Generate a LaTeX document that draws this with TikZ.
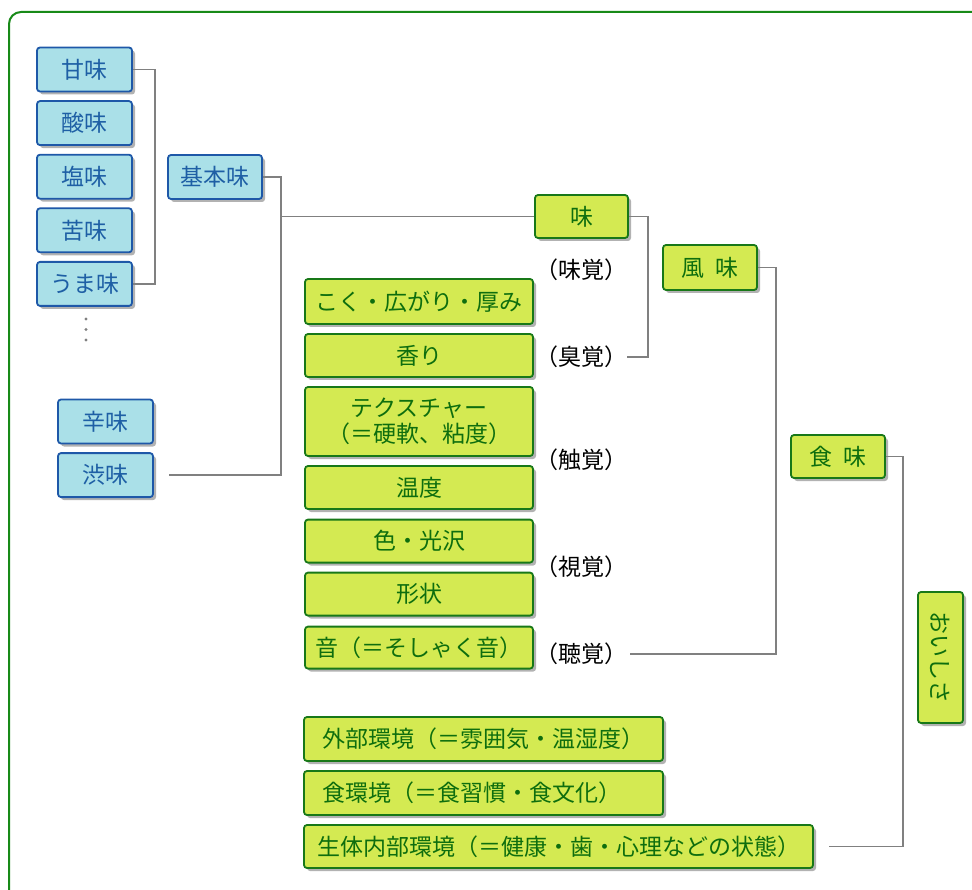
\documentclass[tikz,border=0pt]{standalone}
\usepackage{fontspec}
\usepackage{graphicx}
\setmainfont{Noto Sans CJK JP}
\usetikzlibrary{positioning,shadows}

\definecolor{tastefill}{RGB}{170,224,232}
\definecolor{tasteline}{RGB}{30,88,168}
\definecolor{tastetext}{RGB}{30,95,165}
\definecolor{flavfill}{RGB}{212,234,82}
\definecolor{flavline}{RGB}{24,120,24}
\definecolor{flavtext}{RGB}{14,110,14}
\definecolor{wiregray}{RGB}{128,128,128}
\definecolor{framegreen}{RGB}{24,138,24}

\tikzset{
  box/.style={rectangle, rounded corners=3pt, line width=1.8pt, inner xsep=0pt, inner ysep=0pt,
    minimum height=44pt,
    drop shadow={shadow xshift=3pt, shadow yshift=-3pt, opacity=0.3, fill=black}},
  taste/.style={box, draw=tasteline, fill=tastefill, text=tastetext, minimum width=95pt},
  flavor/.style={box, draw=flavline, fill=flavfill, text=flavtext, minimum width=228pt},
  sense/.style={inner sep=0pt, text=black},
  wire/.style={draw=wiregray, line width=1.7pt}
}

\begin{document}
\begin{tikzpicture}[x=1pt, y=-1pt, node distance=53.6pt, on grid,
    font=\fontsize{23}{26}\selectfont]
  \useasboundingbox (0,0) rectangle (972,890);
  \begin{scope}
    \clip (0,0) rectangle (972,890);
    \draw[framegreen, line width=2pt, rounded corners=12pt] (9,12) rectangle (1010,930);
  \end{scope}

  % basic tastes
  \node[taste] (sweet) at (84.5,69.5) {甘味};
  \node[taste] (sour)   [below=of sweet]  {酸味};
  \node[taste] (salty)  [below=of sour]   {塩味};
  \node[taste] (bitter) [below=of salty]  {苦味};
  \node[taste] (umami)  [below=of bitter] {うま味};
  \foreach \k in {0,1,2}
    \fill[wiregray] (86,319+10.5*\k) circle (1.6pt);
  \node[taste, minimum width=94pt] (kihon) at (215,177) {基本味};
  \node[taste] (spicy) at (105.5,421.5) {辛味};
  \node[taste] (shibu) [below=of spicy] {渋味};

  % flavour
  \node[flavor, minimum width=93pt, minimum height=43pt] (mi) at (581.5,216.5) {味};
  \node[flavor, minimum height=45pt] (koku) at (419,301.5) {こく・広がり・厚み};
  \node[flavor, minimum height=43pt] (kaori) [below=54pt of koku] {香り};
  \node[flavor, minimum height=69pt, align=center] (texture) [below=66pt of kaori]
    {テクスチャー\\（＝硬軟、粘度）};
  \node[flavor, minimum height=43pt] (ondo)  [below=66pt of texture] {温度};
  \node[flavor, minimum height=43pt] (iro)   [below=of ondo] {色・光沢};
  \node[flavor, minimum height=43pt] (keijo) [below=53pt of iro] {形状};
  \node[flavor, minimum height=42pt] (oto)   [below=53.5pt of keijo] {音（＝そしゃく音）};

  \node[sense] (mikaku)   at (581,270) {（味覚）};
  \node[sense] (kyukaku)  at (581,357) {（臭覚）};
  \node[sense] (shokkaku) at (581,460) {（触覚）};
  \node[sense] (shikaku)  at (581,567) {（視覚）};
  \node[sense] (chokaku)  at (581,654) {（聴覚）};

  \node[flavor, minimum width=94pt, minimum height=45pt] (fumi) at (710,267.5) {風\hspace{11pt}味};
  \node[flavor, minimum width=94pt, minimum height=43pt] (shokumi) at (838,456.5) {食\hspace{11pt}味};
  \node[flavor, minimum width=45pt, minimum height=131pt] (oishisa) at (940.5,657.5)
    {\rotatebox{-90}{おいしさ}};

  % environment
  \node[flavor, minimum width=359pt, inner xsep=18pt, text width=323pt, align=left]
    (gaibu) at (483.5,739) {外部環境（＝雰囲気・温湿度）};
  \node[flavor, minimum width=359pt, inner xsep=18pt, text width=323pt, align=left]
    (shokukan) [below=54pt of gaibu] {食環境（＝食習慣・食文化）};
  \node[flavor, minimum width=509pt, minimum height=43pt] (seitai) at (558.5,846.5)
    {生体内部環境（＝健康・歯・心理などの状態）};

  % connectors
  \coordinate (kjoin) at (281,216.5);
  \draw[wire] (sweet.east) -- ++(22,0) |- (umami.east);
  \draw[wire] (kihon.east) -| (kjoin) |- ([xshift=15pt]shibu.east);
  \draw[wire] (kjoin) -- (mi.west);
  \draw[wire] (mi.east) -- ++(19,0) |- (kyukaku.east);
  \draw[wire] (fumi.east) -- ++(18,0) |- ([xshift=3pt]chokaku.east);
  \draw[wire] (shokumi.east) -- ++(17,0) |- ([xshift=15pt]seitai.east);
\end{tikzpicture}
\end{document}
